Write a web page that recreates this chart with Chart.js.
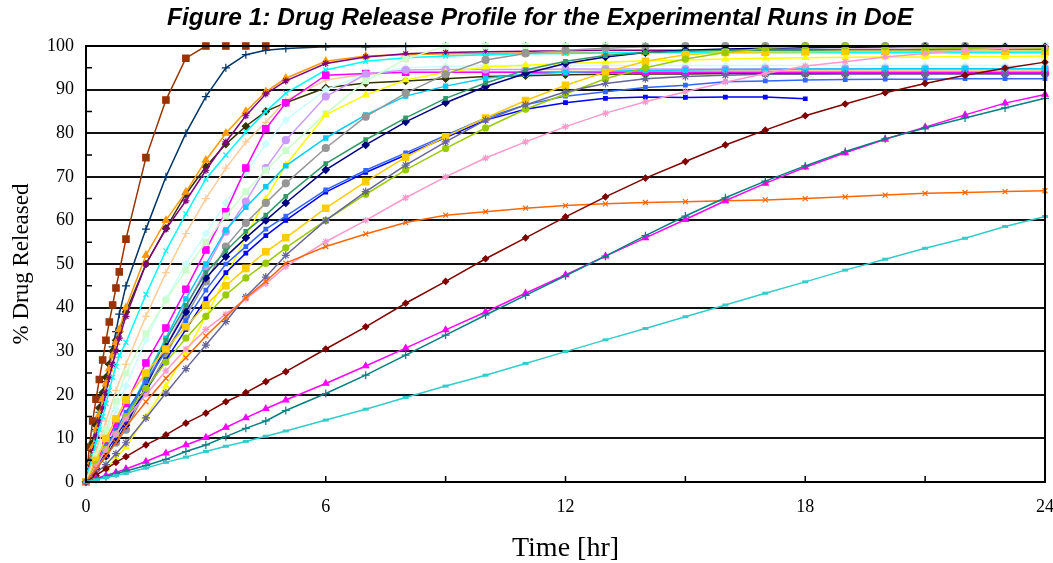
<!DOCTYPE html>
<html>
<head>
<meta charset="utf-8">
<title>Drug Release Profile</title>
<script src="https://cdn.jsdelivr.net/npm/chart.js@4.4.1/dist/chart.umd.min.js"></script>
<style>
    html, body { margin: 0; padding: 0; background: #fff; }
    #wrap { position: relative; width: 1053px; height: 563px; }
    #grafico { position: absolute; left: 0; top: 0; }
    #titulo {
        position: absolute; top: 3px; left: 0; width: 1080px; text-align: center;
        font: italic bold 24.5px "Liberation Sans", Arial, sans-serif; color: #000;
    }
</style>
</head>
<body>
<div id="wrap">
    <canvas id="grafico" width="1053" height="563"></canvas>
    <div id="titulo">Figure 1: Drug Release Profile for the Experimental Runs in DoE</div>
</div>
<script>
// Tiempos de muestreo (horas)
const horas = [0, 0.25, 0.5, 0.75, 1, 1.5, 2, 2.5, 3, 3.5, 4, 4.5, 5,
    6, 7, 8, 9, 10, 11, 12, 13, 14, 15, 16, 17, 18, 19, 20, 21, 22, 23, 24];
const horasRapidas = [0, 0.083, 0.167, 0.25, 0.333, 0.417, 0.5, 0.583, 0.667, 0.75, 0.833, 1,
    1.5, 2, 2.5, 3, 3.5, 4, 4.5, 5,
    6, 7, 8, 9, 10, 11, 12, 13, 14, 15, 16, 17, 18, 19, 20, 21, 22, 23, 24];

// Marcas de los ejes
const ticksMenoresX = [3, 6, 9, 12, 15, 18, 21];
const ticksMenoresY = [5, 15, 25, 35, 45, 55, 65, 75, 85, 95];

// % liberado - corridas rapidas (horasRapidas)
const marron = [0, 8, 14, 19, 23.5, 28, 32.5, 36.7, 40.6, 44.5, 48.2, 55.7,
    74.4, 87.6, 97.2, 100, 100, 100, 100];
const azulCruz = [0, 4, 8, 12, 16, 19.5, 23, 27, 31, 34.5, 38.5, 45,
    58, 70, 80, 88.4, 95, 98, 99, 99.4,
    99.8, 99.8, 99.9, 100, 100, 100, 100, 100, 100, 100, 100, 100, 100, 100, 100, 100, 100];
const oliva = [0, 4.5, 9, 13, 17, 20.5, 24, 27, 30, 32.5, 34.5, 39,
    50, 58.2, 66, 72.3, 77.5, 81.6, 85, 87,
    90.4, 91.5, 92, 92.5, 93, 93.2, 93.4, 93.5, 93.6, 93.6, 93.7, 93.7, 93.7, 93.7, 93.7, 93.7, 93.7, 93.7, 93.7];
const naranjaTri = [0, 4, 8, 12, 15.5, 19, 22.5, 26, 29, 32, 35, 40,
    52, 60, 66.5, 73.8, 80, 85, 89.5, 92.6,
    96.5, 97.7, 98, 98.2, 98.3, 98.4, 98.4, 98.5, 98.5, 98.5, 98.5, 98.5, 98.5, 98.5, 98.5, 98.5, 98.5, 98.5, 98.5];
const purpura = [0, 3.5, 7, 10.5, 14, 17, 20.5, 24, 27, 30, 33, 38,
    50, 58, 64.5, 71.5, 78, 84, 89, 92,
    96, 97.5, 98.2, 98.5, 98.7, 98.8, 98.9, 99, 99, 99, 99, 99.1, 99.1, 99.2, 99.2, 99.2, 99.3, 99.3, 99.3];
const cian = [0, 3, 6, 9, 12, 15, 18, 21, 24, 26.5, 29, 32,
    43, 53, 61.5, 69.5, 75, 80.3, 85, 89.2,
    94.5, 96.5, 97.3, 97.7, 98, 98.2, 98.3, 98.4, 98.5, 98.5, 98.5, 98.5, 98.5, 98.5, 98.5, 98.5, 98.5, 98.5, 98.5];

// % liberado - resto de corridas (horas)
const canela = [0, 7, 14, 21, 27, 38, 48, 57, 65, 72, 78, 82.5, 87.5,
    92.2, 93.5, 94, 94, 94.1, 94.1, 94.2, 94.2, 94.2, 94.3, 94.3, 94.3, 94.3, 94.3, 94.4, 94.4, 94.4, 94.4, 94.4];
const cianPalido = [0, 5.5, 11, 16.5, 22, 32.6, 42, 50, 57, 64, 71, 77.5, 83,
    90, 93.5, 95, 95.3, 95.5, 95.5, 95.5, 95.5, 95.5, 95.5, 95.5, 95.5, 95.5, 95.5, 95.5, 95.5, 95.5, 95.5, 95.5];
const magentaCuad = [0, 4.5, 9, 13.5, 18, 27.3, 35.3, 44.2, 53.2, 62, 72, 81, 87,
    93.3, 93.7, 94, 94, 94, 94, 94, 94, 94, 94, 94, 94, 94, 94, 94, 94, 94, 94, 94];
const lavanda = [0, 3.5, 7.5, 11, 15, 23, 31, 40, 49, 57.4, 64.3, 72, 78.4,
    88.4, 93.5, 94.5, 94.6, 94.6, 94.6, 94.7, 94.7, 94.7, 94.7, 94.7, 94.8, 94.8, 94.8, 94.8, 94.8, 94.8, 94.8, 94.8];
const verdeClaro = [0, 6, 12, 18.5, 25, 34, 41.7, 48.6, 55, 61, 66.6, 71.5, 76,
    84.5, 92, 97, 100, 100, 100, 100, 100, 100, 100, 100, 100, 100, 100, 100, 100, 100, 100, 100];
const amarillo = [0, 1.5, 3, 5.5, 8, 15, 22, 29.6, 38, 47, 56.3, 65, 72.7,
    84.2, 88.8, 92.2, 94, 95.2, 95.6, 96, 96.3, 96.6, 96.8, 97, 97.2, 97.3, 97.4, 97.5, 97.5, 97.6, 97.6, 97.7];
const celeste = [0, 4, 8, 11.5, 15, 24, 33, 42, 50, 57.8, 63, 67.7, 72.5,
    78.9, 84.2, 88.5, 90.8, 92.6, 93.5, 94, 94.2, 94.4, 94.5, 94.6, 94.6, 94.7, 94.7, 94.8, 94.8, 94.8, 94.8, 94.8];
const gris = [0, 3, 6, 9, 12, 21, 29, 38, 46, 54, 59.4, 64, 68.5,
    76.6, 83.8, 89.2, 93.5, 96.8, 98.3, 99, 99.5, 99.8, 100, 100, 100, 100, 100, 100, 100, 100, null, null];
const marino = [0, 3, 6, 9.5, 13, 22, 31, 39, 46.8, 51.7, 56, 60, 64,
    71.6, 77.3, 82.6, 87, 90.7, 93.7, 96, 97.5, 98.5, 99, 99.3, 99.5, 99.6, 99.7, 99.7, 99.8, 99.8, 99.8, 99.8];
const verdeMar = [0, 3.5, 7, 10.5, 14, 23.5, 32.5, 40.5, 48, 53, 57.5, 61.2, 65.5,
    73, 78.5, 83.5, 88, 91.5, 94.5, 96.5, 97.8, 98.5, 98.8, 99, 99, 99, 99.1, 99.1, 99.1, 99.2, 99.2, 99.2];
const azul = [0, 3.5, 7, 10.5, 14, 21, 28, 35, 42, 48, 52.5, 56.5, 60,
    66.5, 71, 75, 79, 83, 85.5, 87, 88, 88.3, 88.2, 88.3, 88.3, 87.9, null, null, null, null, null, null];
const azulClaro = [0, 4, 8, 12, 16, 23, 30, 37, 44, 50, 54, 58, 61,
    67, 71.5, 75.5, 79.5, 83.5, 86.5, 88.5, 89.5, 90.5, 91, 91.8, 92, 92.2, 92.3, 92.4, 92.4, 92.5, 92.5, 92.5];
const dorado = [0, 5, 10, 14.5, 18.8, 25, 30.5, 35.6, 40.6, 45, 49, 52.8, 56,
    62.8, 68.9, 74.5, 79.2, 83.5, 87.5, 91, 94, 96.5, 98, 98.5, 98.6, 98.7, 98.8, 98.8, 98.8, 98.8, 98.8, 98.8];
const lima = [0, 4, 7.5, 11, 15, 21.5, 27.5, 33, 38, 42.9, 46.8, 50.2, 53.7,
    60, 66, 71.6, 76.5, 81.2, 85.5, 89, 92.5, 95, 97, 98.5, 99.5, 100, 100, 99.8, 99.6, 99.5, 99.5, 99.5];
const grisAzul = [0, 2, 4, 6.5, 9, 14.7, 20.4, 26, 31.4, 36.8, 42.5, 47, 52,
    60, 66.6, 72.7, 78, 83, 86.5, 89.5, 91.4, 92.5, 93, 93.3, 93.5, 93.5, 93.6, 93.6, 93.6, 93.6, 93.6, 93.6];
const naranjaX = [0, 3, 6, 9, 12.7, 18.4, 23.8, 28.5, 33.5, 37.9, 42.2, 46, 50.2,
    54, 56.9, 59.5, 61.2, 62, 62.8, 63.4, 63.8, 64.1, 64.3, 64.5, 64.7, 65, 65.4, 65.8, 66.2, 66.4, 66.6, 66.8];
const rosa = [0, 3.5, 7.5, 11, 14.5, 20, 25.5, 30.5, 35, 38.5, 42, 45.5, 49.4,
    55.1, 60, 65.2, 70, 74.3, 78, 81.5, 84.6, 87.2, 89.5, 91.7, 93.7, 95.4, 96.4, 97.5, 98.3, 99, 99.5, 99.7];
const rojoOscuro = [0, 1.5, 3, 4.5, 5.8, 8.5, 10.8, 13.5, 15.8, 18.4, 20.5, 23, 25.3,
    30.5, 35.6, 41, 46, 51.2, 56, 60.8, 65.4, 69.7, 73.5, 77.3, 80.7, 84, 86.7, 89.3, 91.4, 93.3, 94.9, 96.3];
const magentaLenta = [0, 0.8, 1.5, 2.2, 3, 4.7, 6.6, 8.5, 10.2, 12.5, 14.7, 16.8, 18.8,
    22.6, 26.6, 30.7, 34.9, 39, 43.3, 47.5, 51.8, 56, 60.2, 64.5, 68.5, 72.2, 75.5, 78.6, 81.4, 84.2, 86.9, 88.9];
const verdeAzulado = [0, 0.6, 1.2, 1.9, 2.5, 3.8, 5.2, 7, 8.5, 10.4, 12.3, 14, 16.4,
    20.3, 24.5, 29.1, 33.7, 38.3, 42.8, 47.3, 51.8, 56.5, 61, 65.2, 69, 72.5, 75.8, 78.7, 81.2, 83.5, 85.8, 88];
const aguamarina = [0, 0.5, 1, 1.5, 2, 3.2, 4.5, 5.7, 7, 8.2, 9.3, 10.5, 11.7,
    14.2, 16.7, 19.4, 22, 24.5, 27.2, 29.9, 32.6, 35.2, 37.9, 40.6, 43.3, 45.9, 48.6, 51.1, 53.6, 55.9, 58.6, 60.9];

// Armar una serie para Chart.js
function serie(tiempos, valores, color, estilo, radio) {
    const puntos = [];
    tiempos.forEach((t, i) => {
        if (valores[i] !== undefined && valores[i] !== null) puntos.push({ x: t, y: valores[i] });
    });
    return {
        data: puntos,
        borderColor: color,
        backgroundColor: color,
        borderWidth: 1.5,
        pointStyle: estilo,
        pointRadius: radio,
        pointBorderWidth: estilo === 'line' ? 3 : 1.2,
        pointBorderColor: color,
        pointBackgroundColor: color,
        tension: 0,
        clip: 8
    };
}

const datasets = [
    serie(horas, aguamarina, '#33CCCC', 'line', 3),
    serie(horas, verdeAzulado, '#008080', 'cross', 4),
    serie(horas, magentaLenta, '#FF00FF', 'triangle', 3.5),
    serie(horas, rojoOscuro, '#800000', 'rectRot', 3),
    serie(horas, naranjaX, '#FF6600', 'crossRot', 3.5),
    serie(horas, rosa, '#FF99CC', 'star', 3.5),
    serie(horas, grisAzul, '#666699', 'star', 4),
    serie(horas, lima, '#99CC00', 'circle', 3),
    serie(horas, dorado, '#FFCC00', 'rect', 4.5),
    serie(horas, azulClaro, '#3366FF', 'rect', 2.5),
    serie(horas, azul, '#0000FF', 'rect', 2.5),
    serie(horas, verdeMar, '#339966', 'rect', 2.5),
    serie(horas, marino, '#000080', 'rectRot', 3.5),
    serie(horas, gris, '#969696', 'circle', 3.5),
    serie(horas, celeste, '#00CCFF', 'rect', 3),
    serie(horas, amarillo, '#FFFF00', 'triangle', 3.5),
    serie(horas, verdeClaro, '#CCFFCC', 'rect', 4),
    serie(horas, lavanda, '#CC99FF', 'circle', 3.5),
    serie(horas, magentaCuad, '#FF00FF', 'rect', 4.5),
    serie(horas, cianPalido, '#CCFFFF', 'rectRot', 3.5),
    serie(horas, canela, '#FFCC99', 'cross', 4),
    serie(horasRapidas, cian, '#00FFFF', 'crossRot', 3.5),
    serie(horasRapidas, purpura, '#800080', 'star', 3.5),
    serie(horasRapidas, naranjaTri, '#FF9900', 'triangle', 4),
    serie(horasRapidas, oliva, '#333300', 'rectRot', 3.5),
    serie(horasRapidas, azulCruz, '#003366', 'cross', 4),
    serie(horasRapidas, marron, '#993300', 'rect', 4.5)
];

// Marco del area de trazado y marcas interiores de los ejes
const marco = {
    id: 'marco',
    afterDraw(chart) {
        const { ctx, chartArea: a, scales: { x, y } } = chart;
        ctx.save();
        ctx.strokeStyle = '#000';
        ctx.lineWidth = 2;
        ctx.strokeRect(a.left, a.top, a.right - a.left, a.bottom - a.top);
        ctx.lineWidth = 1.5;
        ctx.beginPath();
        ticksMenoresY.forEach(v => {
            const py = y.getPixelForValue(v);
            ctx.moveTo(a.left, py);
            ctx.lineTo(a.left + 6, py);
        });
        ticksMenoresX.forEach(v => {
            const px = x.getPixelForValue(v);
            ctx.moveTo(px, a.bottom);
            ctx.lineTo(px, a.bottom - 6);
        });
        ctx.stroke();
        ctx.restore();
    }
};

new Chart(document.getElementById('grafico'), {
    type: 'line',
    data: { datasets },
    plugins: [marco],
    options: {
        responsive: false,
        animation: false,
        layout: { autoPadding: false, padding: { top: 46, right: 8, left: 0, bottom: 0 } },
        plugins: {
            legend: { display: false },
            title: { display: false },
            tooltip: { enabled: false }
        },
        scales: {
            x: {
                type: 'linear',
                min: 0,
                max: 24,
                afterFit: s => {
                    s.height = 81;
                    s.paddingLeft = 0;
                    s.paddingRight = 0;
                },
                grid: { display: false },
                border: { display: false },
                ticks: {
                    stepSize: 3,
                    autoSkip: false,
                    maxRotation: 0,
                    padding: 6,
                    color: '#000',
                    font: { family: '"Liberation Serif", "Times New Roman", serif', size: 18 },
                    callback: v => (v % 6 === 0 ? v : '')
                },
                title: {
                    display: true,
                    text: 'Time [hr]',
                    color: '#000',
                    font: { family: '"Liberation Serif", "Times New Roman", serif', size: 28 },
                    padding: { top: 0, bottom: -2 }
                }
            },
            y: {
                min: 0,
                max: 100,
                afterFit: s => { s.width = 86; },
                grid: { color: '#111', lineWidth: 2, drawTicks: false },
                border: { display: false },
                ticks: {
                    stepSize: 10,
                    padding: 12,
                    color: '#000',
                    font: { family: '"Liberation Serif", "Times New Roman", serif', size: 18 }
                },
                title: {
                    display: true,
                    text: '% Drug Released',
                    color: '#000',
                    font: { family: '"Liberation Serif", "Times New Roman", serif', size: 23 },
                    padding: { top: 8, bottom: 0 }
                }
            }
        }
    }
});
</script>
</body>
</html>
